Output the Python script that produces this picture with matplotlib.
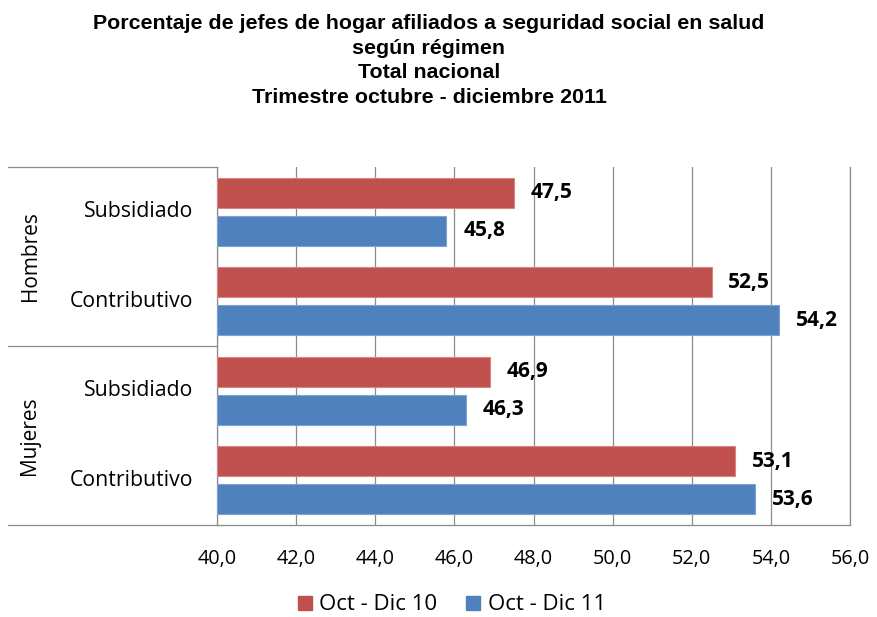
import matplotlib
matplotlib.use("Agg")
import matplotlib.pyplot as plt
import matplotlib.transforms as mtransforms
from matplotlib.lines import Line2D
from matplotlib.patches import Patch
import numpy as np

# data
categorias = ["Subsidiado", "Contributivo", "Subsidiado", "Contributivo"]
grupos = ["Hombres", "Mujeres"]
oct_dic_10 = [47.5, 52.5, 46.9, 53.1]
oct_dic_11 = [45.8, 54.2, 46.3, 53.6]
series_names = ["Oct - Dic 10", "Oct - Dic 11"]
xticks = [40, 42, 44, 46, 48, 50, 52, 54, 56]
titulo = ["Porcentaje de jefes de hogar afiliados a seguridad social en salud",
          "según régimen", "Total nacional",
          "Trimestre octubre - diciembre 2011"]

rojo = "#C0504D"
azul = "#4F81BD"
gris = "#8C8C8C"
fuente = ["Open Sans", "DejaVu Sans"]
fuente_tit = ["Liberation Sans", "DejaVu Sans"]

fig = plt.figure(figsize=(8.77, 6.17), dpi=100)
ax = fig.add_axes([217/877, 1-525/617, (850-217)/877, (525-167)/617])

y = np.arange(len(categorias))
h = 0.335
off = 0.213
ax.barh(y - off, np.array(oct_dic_10) - 40, left=40, height=h,
        color=rojo, edgecolor="#D98582", linewidth=0.8, zorder=3)
ax.barh(y + off, np.array(oct_dic_11) - 40, left=40, height=h,
        color=azul, edgecolor="#7FA3D1", linewidth=0.8, zorder=3)

for yy, v in list(zip(y - off, oct_dic_10)) + list(zip(y + off, oct_dic_11)):
    ax.annotate(f"{v:.1f}".replace(".", ","), (v, yy), xytext=(12, 0),
                textcoords="offset points", va="center", ha="left",
                fontsize=15, fontweight="bold", family=fuente)

ax.set_xlim(40, 56)
ax.set_ylim(3.5, -0.5)
ax.set_xticks(xticks)
ax.set_xticklabels([f"{t:.1f}".replace(".", ",") for t in xticks],
                   fontsize=14.3, family=fuente)
ax.tick_params(axis="x", length=0, pad=17)
ax.set_yticks([])
ax.grid(axis="x", color=gris, linewidth=0.9, zorder=0)
ax.spines["top"].set_visible(False)
for s in ["left", "bottom", "right"]:
    ax.spines[s].set_color(gris)
    ax.spines[s].set_linewidth(0.9)

# category labels and group separators
tr = mtransforms.blended_transform_factory(fig.transFigure, ax.transData)
for yy, c in zip(y, categorias):
    fig.text(193/877, yy, c, transform=tr, ha="right", va="center",
             fontsize=15.3, family=fuente)
for gy, g in zip([0.5, 2.5], grupos):
    fig.text(30/877, gy, g, transform=tr, ha="center", va="center",
             rotation=90, fontsize=15, family=fuente)
for ly in [-0.5, 1.5, 3.5]:
    fig.add_artist(Line2D([8/877, 217/877], [ly, ly], transform=tr,
                          color=gris, linewidth=0.9))

for i, linea in enumerate(titulo):
    fig.text(429/877, 1-(29 + 24.6*i)/617, linea, ha="center", va="baseline",
             fontsize=15.4, fontweight="bold", family=fuente_tit)

fig.legend([Patch(color=rojo), Patch(color=azul)], series_names,
           loc="center", bbox_to_anchor=(452/877, 1-605/617), ncol=2,
           frameon=False, prop={"family": fuente, "size": 16},
           handlelength=0.6, handleheight=0.6, handletextpad=0.35,
           columnspacing=1.3)

fig.savefig("out.png", dpi=100)
